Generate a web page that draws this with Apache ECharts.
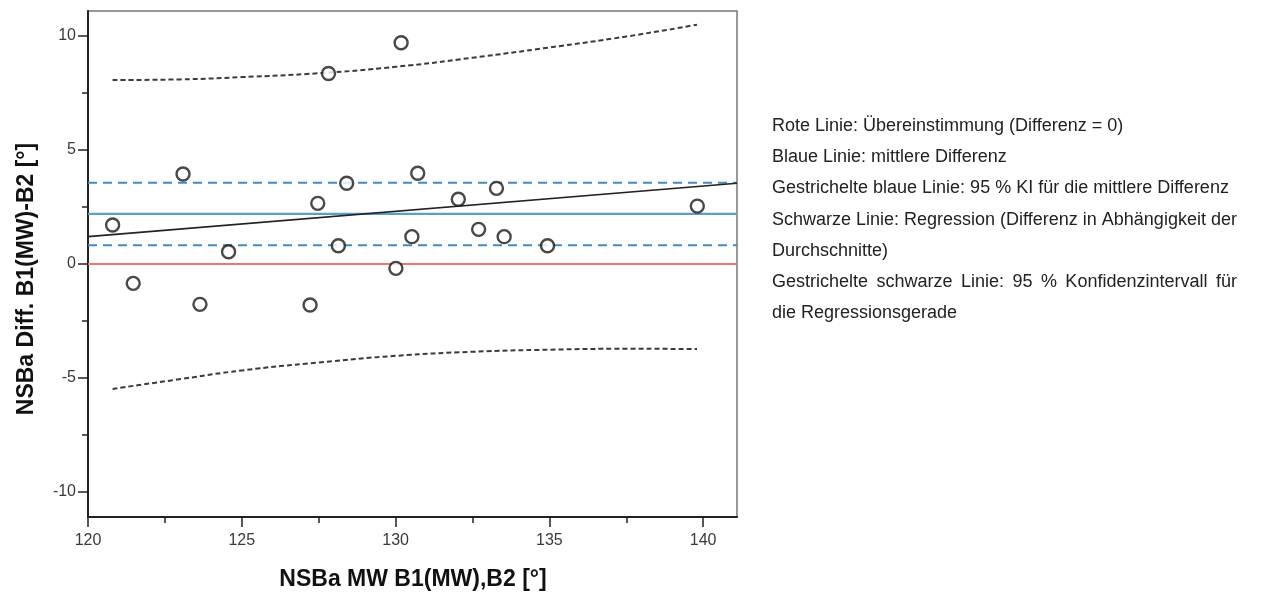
<!DOCTYPE html>
<html>
<head>
<meta charset="utf-8">
<script src="https://cdn.jsdelivr.net/npm/echarts@6/dist/echarts.min.js"></script>
<style>
html,body{margin:0;padding:0;background:#fff;}
#chart{width:1270px;height:593px;}
</style>
</head>
<body>
<div id="chart"></div>
<script>
// ---- data ----
const meanX = [120.80,121.47,123.09,123.64,124.57,127.22,127.47,127.82,128.14,128.41,130.01,130.18,130.53,130.72,132.04,132.70,133.28,133.53,134.94,139.81];
const diffY = [1.71,-0.85,3.95,-1.77,0.54,-1.80,2.66,8.36,0.80,3.54,-0.19,9.71,1.20,3.98,2.84,1.52,3.32,1.20,0.80,2.54];

const lineX = [120, 141.1];          // x extent of the reference lines
const agreementY = [0, 0];           // red line
const meanDiffY = [2.2, 2.2];        // blue line
const ciMeanLowY = [0.82, 0.82];     // dashed blue lower
const ciMeanHighY = [3.57, 3.57];    // dashed blue upper
const regressionY = [1.2, 3.54];     // black regression line

const ciX = [120.8,123,125,127.5,130,132.5,135,137.5,139.8];
const ciUpper = [8.07,8.10,8.20,8.37,8.65,9.05,9.50,9.98,10.50];
const ciLower = [-5.48,-5.05,-4.67,-4.32,-4.03,-3.85,-3.76,-3.72,-3.73];

const xTicks = [120,125,130,135,140];
const xMinorTicks = [122.5,127.5,132.5,137.5];
const yTicks = [-10,-5,0,5,10];
const yMinorTicks = [-7.5,-2.5,2.5,7.5];

const xTitle = 'NSBa MW B1(MW),B2 [°]';
const yTitle = 'NSBa Diff. B1(MW)-B2 [°]';
const notes = [
  'Rote Linie: Übereinstimmung (Differenz = 0)',
  'Blaue Linie: mittlere Differenz',
  'Gestrichelte blaue Linie: 95 % KI für die mittlere Differenz',
  'Schwarze Linie: Regression (Differenz in Abhängigkeit der',
  'Durchschnitte)',
  'Gestrichelte schwarze Linie: 95 % Konfidenzintervall für',
  'die Regressionsgerade'
];
const justifiedLines = [5];

// ---- build ----
const pair = (xs, ys) => xs.map((x, i) => [x, ys[i]]);
const FONT = '"Liberation Sans", Arial, Helvetica, sans-serif';
const chart = echarts.init(document.getElementById('chart'));

const grid = {left: 88, top: 11, width: 649, height: 506, show: true, borderColor: '#777', borderWidth: 1.5, backgroundColor: 'transparent'};

function mainAxis(type, ticks, min, max) {
  return {
    type: 'value', min: min, max: max, gridIndex: 0,
    position: type === 'x' ? 'bottom' : 'left',
    axisLine: {show: true, onZero: false, lineStyle: {color: '#222', width: 2}},
    axisTick: {show: true, customValues: ticks, length: 10, lineStyle: {color: '#222', width: 1.5}},
    axisLabel: {customValues: ticks, color: '#3a3a3a', fontSize: 16, fontFamily: FONT, margin: type === 'x' ? 16 : 12},
    splitLine: {show: false}
  };
}
function minorAxis(type, ticks, min, max) {
  return {
    type: 'value', min: min, max: max, gridIndex: 0,
    position: type === 'x' ? 'bottom' : 'left',
    axisLine: {show: false, onZero: false},
    axisTick: {show: true, customValues: ticks, length: 6, lineStyle: {color: '#222', width: 1.5}},
    axisLabel: {show: false},
    splitLine: {show: false}
  };
}

// legend text layout (justify selected lines to width of previous line)
const ctx = document.createElement('canvas').getContext('2d');
const noteFontSize = 18;
ctx.font = noteFontSize + 'px ' + FONT;
const noteLeft = 772, noteTop = 126, noteStep = 31.2;
const graphics = [];
const justifyWidth = ctx.measureText(notes[3]).width;
notes.forEach((t, i) => {
  const y = noteTop + i * noteStep;
  if (justifiedLines.includes(i)) {
    const words = t.split(' ');
    const widths = words.map(w => ctx.measureText(w).width);
    const total = widths.reduce((a, b) => a + b, 0);
    const gap = (justifyWidth - total) / (words.length - 1);
    let x = noteLeft;
    words.forEach((w, k) => {
      graphics.push({type: 'text', x: x, y: y, style: {text: w, font: noteFontSize + 'px ' + FONT, fill: '#222', verticalAlign: 'middle', align: 'left'}});
      x += widths[k] + gap;
    });
  } else {
    graphics.push({type: 'text', x: noteLeft, y: y, style: {text: t, font: noteFontSize + 'px ' + FONT, fill: '#222', verticalAlign: 'middle', align: 'left'}});
  }
});
graphics.push({type: 'text', x: 413, y: 580, style: {text: xTitle, font: 'bold 23px ' + FONT, fill: '#111', align: 'center', verticalAlign: 'middle'}});
graphics.push({type: 'text', x: 27, y: 279, rotation: Math.PI / 2, style: {text: yTitle, font: 'bold 23px ' + FONT, fill: '#111', align: 'center', verticalAlign: 'middle'}});

const lineSeries = (name, data, color, width, dash, z, smooth) => ({
  name: name, type: 'line', data: data, xAxisIndex: 0, yAxisIndex: 0,
  showSymbol: false, symbol: 'none', smooth: smooth || false, z: z, silent: true,
  lineStyle: {color: color, width: width, type: dash || 'solid'}
});

const option = {
  backgroundColor: '#fff',
  animation: false,
  grid: grid,
  xAxis: [mainAxis('x', xTicks, lineX[0], lineX[1]), minorAxis('x', xMinorTicks, lineX[0], lineX[1])],
  yAxis: [mainAxis('y', yTicks, -11.1, 11.1), minorAxis('y', yMinorTicks, -11.1, 11.1)],
  graphic: graphics,
  series: [
    lineSeries('Übereinstimmung', pair(lineX, agreementY), '#f07474', 2, 'solid', 2),
    lineSeries('mittlere Differenz', pair(lineX, meanDiffY), '#5a9fc7', 2.2, 'solid', 2),
    lineSeries('KI unten', pair(lineX, ciMeanLowY), '#3f8fbd', 2, [9, 6], 3),
    lineSeries('KI oben', pair(lineX, ciMeanHighY), '#3f8fbd', 2, [9, 6], 3),
    lineSeries('Regression', pair(lineX, regressionY), '#222', 1.6, 'solid', 4),
    lineSeries('KI Regression oben', pair(ciX, ciUpper), '#3a3a3a', 2, [5, 3], 4, true),
    lineSeries('KI Regression unten', pair(ciX, ciLower), '#3a3a3a', 2, [5, 3], 4, true),
    {
      name: 'Differenz', type: 'scatter', data: pair(meanX, diffY), z: 10,
      symbol: 'circle', symbolSize: 13,
      itemStyle: {color: '#fff', borderColor: '#1a1a1a', borderWidth: 2.4}
    }
  ]
};
chart.setOption(option);
</script>
</body>
</html>
